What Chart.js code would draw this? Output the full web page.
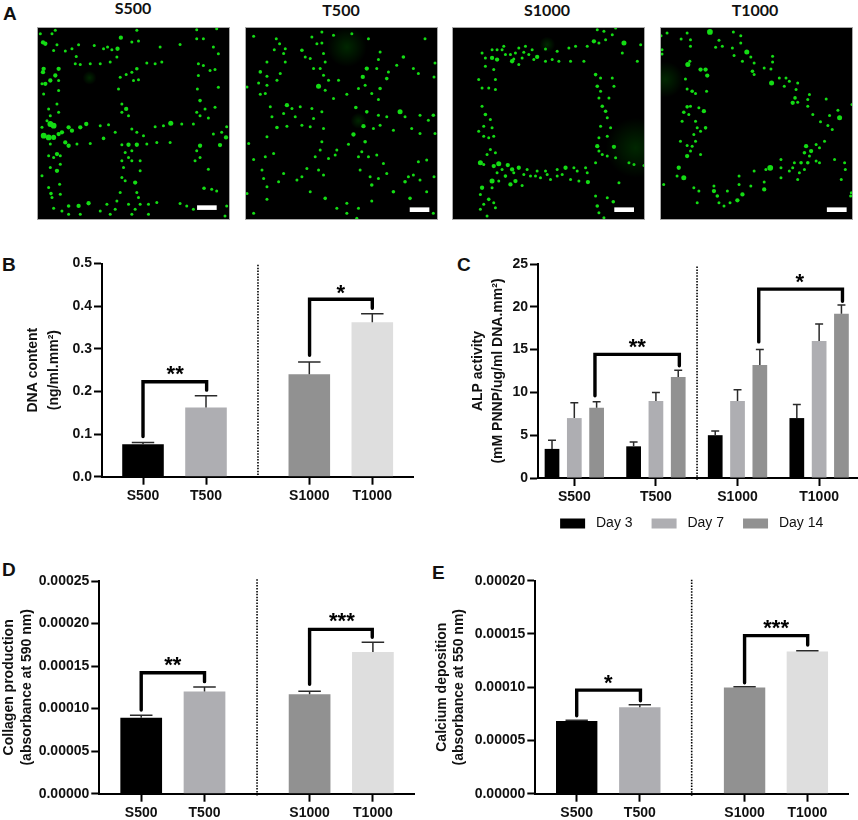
<!DOCTYPE html>
<html lang="en">
<head>
<meta charset="utf-8">
<title>Scaffold cell response</title>
<script src="https://cdn.jsdelivr.net/npm/chart.js@4.4.1/dist/chart.umd.js"></script>
<style>
html, body { margin: 0; padding: 0; background: #fff; overflow: hidden; }
#page { position: relative; width: 858px; height: 820px; overflow: hidden; font-family: "Liberation Sans", Arial, sans-serif; }
#page canvas { position: absolute; }
.letter { position: absolute; font-size: 19px; font-weight: bold; line-height: 19px; color: #111; }
.imgTitle { position: absolute; width: 100px; text-align: center; font: bold 16px/16px Lato, sans-serif; color: #111; }
canvas.micro { filter: blur(0.35px); }
</style>
</head>
<body>
<div id="page">
  <div class="letter" style="left:3px;top:4px">A</div>
  <div class="letter" style="left:2px;top:255px">B</div>
  <div class="letter" style="left:457px;top:255px">C</div>
  <div class="letter" style="left:2px;top:560px">D</div>
  <div class="letter" style="left:432px;top:563px">E</div>
  <div class="imgTitle" style="left:83px;top:0px">S500</div>
  <div class="imgTitle" style="left:291px;top:2px">T500</div>
  <div class="imgTitle" style="left:497px;top:2px">S1000</div>
  <div class="imgTitle" style="left:705px;top:2px">T1000</div>

  <canvas id="imgS500" class="micro" style="left:37px;top:27px"></canvas>
  <canvas id="imgT500" class="micro" style="left:245px;top:27px"></canvas>
  <canvas id="imgS1000" class="micro" style="left:452px;top:27px"></canvas>
  <canvas id="imgT1000" class="micro" style="left:660px;top:27px"></canvas>
  <canvas id="chartB" style="left:0;top:240px"></canvas>
  <canvas id="chartC" style="left:430px;top:240px"></canvas>
  <canvas id="chartD" style="left:0;top:550px"></canvas>
  <canvas id="chartE" style="left:430px;top:550px"></canvas>
</div>

<script>
"use strict";

var categories = ["S500", "T500", "S1000", "T1000"];
var dayLabels = ["Day 3", "Day 7", "Day 14"];

// B - DNA content
var dnaValues = [0.076, 0.162, 0.240, 0.3625];
var dnaTops = [0.080, 0.190, 0.269, 0.382];
// C - ALP activity, one list per day
var alpDay3 = [3.4, 3.7, 5.0, 7.0];
var alpDay7 = [7.0, 9.0, 9.0, 16.0];
var alpDay14 = [8.2, 11.8, 13.2, 19.2];
var alpDay3Tops = [4.4, 4.2, 5.5, 8.6];
var alpDay7Tops = [8.8, 10.0, 10.3, 18.0];
var alpDay14Tops = [8.9, 12.6, 15.0, 20.2];
// D - collagen
var collagenValues = [0.0000893, 0.000120, 0.0001168, 0.0001665];
var collagenTops = [0.0000921, 0.0001254, 0.0001203, 0.0001779];
// E - calcium
var calciumValues = [0.0000682, 0.0000811, 0.0000998, 0.0001336];
var calciumTops = [0.0000689, 0.0000836, 0.0001005, 0.0001343];

// x places of the four groups on each linear x axis (the gap in the middle is wider)
var spacedPos = [0, 1, 2.64, 3.64];
var evenPos = [0, 1, 2, 3];

// significance brackets: [x left, x right, y left end, y right end, y top, stars, x stars, y stars]
var dnaBrackets = [
  [0, 1.01, 0.094, 0.203, 0.2228, "**", 0.51, 0.248],
  [2.644, 3.64, 0.285, 0.395, 0.416, "*", 3.14, 0.439]
];
var alpBrackets = [
  [0.253, 1.287, 9.6, 13.1, 14.44, "**", 0.772, 15.7],
  [2.26, 3.286, 15.9, 20.65, 22.07, "*", 2.763, 23.3]
];
var collagenBrackets = [
  [0, 1.0, 0.0000984, 0.0001317, 0.0001422, "**", 0.5, 0.000155],
  [2.66, 3.65, 0.0001285, 0.0001838, 0.0001932, "***", 3.17, 0.000206]
];
var calciumBrackets = [
  [0, 1.01, 0.0000732, 0.0000873, 0.0000973, "*", 0.5, 0.0001067],
  [2.66, 3.66, 0.0001042, 0.0001396, 0.0001484, "***", 3.16, 0.0001584]
];

// A - green cells: [x, y] or [x, y, size], in crop pixels
var cellsS500 = [
  [120,100],[128,126,3],[135,130,3],[165,90],[155,100],[170,133],[160,150],[235,133],[282,135],[322,140],[352,145,3],[362,112,3],[395,125],[415,122],[410,90],
  [195,152],[228,168],[215,145],[310,145],[335,148],[225,190],[240,192],[270,190],[300,190],[330,185],[350,170],[410,205,2.5],[395,215],[440,188],[465,190],[485,185],
  [480,140],[540,132],[590,88],[650,85],[610,115],[590,115],[640,140],[655,160],[595,190],[610,195],[630,210],[645,207],
  [130,205,3],[128,215,3],[175,205,3],[165,225,3],[150,240,3],[135,250,3],[175,240],[125,250],[130,280],[175,270],[170,310],[145,325],[175,335],[150,345],
  [360,230],[378,222],[400,240],[415,238],[355,265],[365,310],[378,325,3],[385,345],[365,335],[595,225],[592,265],[600,300,2.5],[655,260],[615,325],[645,320],[590,335],
  [150,370,4],[160,375,4],[125,380],[140,360],[130,405,4],[145,410,4],[160,410,3.5],[175,400,3],[185,395,3],[205,380,3],[215,390,3],[240,380,3],[258,370,3],[195,425,3],[205,435,3],
  [230,430],[270,428],[310,413,2.5],[300,375],[325,372],[345,395],[395,385],[410,395],[430,405],[465,378],[490,375],[512,368,3.5],[545,370],[580,370],[680,378],[678,410,3],[665,395],
  [625,352],[600,345],[440,430],[470,425],[510,425],[385,432,3],[410,432,3],[365,432],[600,435,3],[660,433,3],[640,400],
  [150,430],[145,465],[170,460,3],[180,465],[160,470],[180,490],[170,510,3],[150,500],[125,525],[178,550],[180,580],[145,560],[152,578,2.5],[155,590],
  [365,480],[370,500],[375,455],[395,450],[420,480],[395,480],[420,510],[365,530],[375,540],[405,545,3],[410,575],[415,590],[360,575],[385,470],[600,470],[590,450],[625,505],[612,562,2.5],[650,570],[635,565],[585,480],
  [160,622],[185,630],[205,615,2.5],[235,615,3],[265,607,3],[300,630],[320,610],[345,625],[350,600],[385,610],[405,625],[420,610],[445,610],[470,605],[540,608],[560,615],[580,625],[680,615],[675,645],[240,640],[330,640],[395,640],[445,640],[205,640]
];
var cellsT500 = [
  [760,108],[828,115],[838,130],[822,148],[855,145],[850,160],[800,185],[855,185],[905,150,2.5],[915,170],[930,175],[780,215,2.5],[800,228],[840,220],[830,240],[775,248],[740,260],[800,255],[795,280],[780,282],
  [935,110],[965,95],[965,128],[1000,105],[1055,100],[1105,115],[950,130],[970,160],[975,185],[940,205],[960,205],[970,225],[955,258,3.5],[985,240],[1015,240],[975,270],[1000,295],[1040,282],
  [1140,155],[1135,178],[1130,205],[1100,205,3],[1088,230,3],[1095,255],[1075,265],[1165,215],[1160,235,2.5],[1190,195],[1210,170,2.5],[1240,205],[1255,220],[1140,265,2.5],[1115,280],[1135,298],[1275,115],[1305,188],[1302,230],
  [810,320],[860,315,3],[875,325],[900,320],[935,325],[815,350],[850,340],[885,350],[940,355],[965,335],[1067,322,2.5],[1100,335,2.5],[1135,345],[1200,335,3.5],[1160,350],[1215,350],[1260,345],[1285,360],[1300,345,2.5],
  [830,382,2.5],[860,378],[905,375],[930,380],[970,385],[1090,378,3],[1060,403,3],[1120,385],[1140,375],[1180,390],[1235,385],[1260,400],[1305,400],
  [800,410],[965,425],[960,450],[945,470],[1010,450],[985,475],[1005,465],[1045,432],[1095,425,2.5],[1085,455],[1075,470],[1105,470],[1130,465],[1150,490],[745,430],[760,478],[795,470],[820,460],
  [785,510],[790,535],[800,560],[835,545],[850,520],[905,530],[920,505],[955,510],[970,525],[890,540],[1080,510],[1115,555,2.5],[1110,530],[1160,520],[1135,535],[1215,545,2.5],[1225,530],[1240,525],[1255,485],[1280,480],[1260,540],[1280,575],[1302,530],
  [1180,575,2.5],[1230,595,2.5],[740,580],[800,598],[930,575],[975,595,2.5],[1040,610],[1075,625],[1115,603],[1040,640],[1070,655],[760,640],[1010,625],[1300,640]
];
var cellsS1000 = [
  [155,160],[185,150],[165,175],[185,175,3],[200,180,3],[215,150],[225,165],[245,185,3],[240,165],[265,145],[275,175],[295,165],[320,172,3],[345,148],[285,140],[305,150],[380,155],[345,185],[385,185],[415,145],[435,140],[420,185],[460,185],[470,140],
  [490,125,3],[505,130],[525,120],[500,90],[520,95],[555,85],[545,105],[580,130,3.5],[630,135],[575,160],[620,185],[165,200],[190,210],[265,195],[220,140],[255,160],[200,150],[250,178],[280,158],[310,180],[365,180],
  [145,240],[155,265],[175,265],[195,240],[195,270],[155,320],[165,345,2.5],[180,360],[160,380],[145,395],[185,385],[160,410],[175,415],[190,410],[180,450],[170,465],[195,460],
  [495,225,2.5],[510,235],[545,235],[500,260,2.5],[510,275],[550,260],[505,295],[535,295],[515,320,2.5],[525,335,2.5],[530,355],[510,380],[540,385],[505,415],[530,410],[500,440,3],[505,455],[550,442,3],[515,465],[530,470],[555,475],
  [150,490,3.5],[160,495],[190,500,3],[205,493,3.5],[232,497,3],[245,510,3],[265,505,3],[290,510],[320,515],[345,515],[380,510],[405,505,3],[430,505],[465,505],[200,520],[225,530,2.5],[250,520],[185,545,3.5],[205,545],[240,555,3],[255,545,3],[275,558],[300,530],[330,535],[360,540],[395,525],[420,540],[445,545],[472,548,3],[470,520],[495,490],[215,510],[280,525],[315,530],[350,525],[380,530],[440,515],
  [155,565,3],[150,585],[185,565],[175,600,2.5],[190,610],[160,615],[150,630],[170,650],[195,625],
  [495,590],[500,620,2.5],[505,640],[548,607,2.5],[530,595],[520,655],[595,490],[640,498],[565,550],[610,495]
];
var cellsT1000 = [
  [692,108],[710,100],[770,100],[838,97,4],[908,97],[930,108],[752,118],[780,120],[780,140],[865,122],[855,143],[875,140],[930,130],[905,145],[948,157,3.5],[910,168],[960,172],[695,150],[695,163],[935,185],[1025,170],[1025,187],[970,190],
  [772,195,3.5],[778,185],[810,210,3],[825,210,3],[830,228,3],[765,238],[828,275],[770,268],[785,275,2.5],[795,282],[780,320],[770,322,2.5],[760,338,2.5],[805,325],[820,335,3],[775,345],[755,365],[795,365],[800,385],[825,385,2.5],[810,395],[790,405],[750,425],[770,438],[795,425],[785,440],[810,465],[770,470,3],[780,455],[745,505,3],[760,535,3.5],[740,530],[700,555],
  [965,215,2.5],[970,225],[1000,205],[1020,208],[1022,250,3.5],[1045,235],[1065,235],[1075,245],[1100,250],[1060,260],[1095,270],[1092,295,2.5],[1100,308],[1085,310,3],[1130,300],[1135,285],[1130,320],[1185,298],[1220,332],[1225,355,3.5],[1195,348],[1168,367],[1203,390],[1145,345],[1190,378],
  [1180,425],[1155,435],[1125,440,3],[1140,455,3],[1120,460,2.5],[1165,445],[1135,470],[1110,490,2.5],[1130,490,2.5],[1155,485],[1090,490],[1085,505],[1105,520],[1120,510],[1075,515],[1100,540],[1050,480],[1050,505],[1165,490],[1210,480],[1240,490],[1242,510],[1230,540],[1260,580],[1258,590],[1262,315],
  [1018,505,4],[1005,510],[970,515],[925,530],[1000,548],[1000,570,3],[960,560],[925,555],[935,585,3],[920,603,3],[898,610],[880,620],[850,575,3],[860,590,2.5],[865,610],[850,560],[790,565],[805,575],[890,575],[1050,535],[800,610]
];
// out of focus glow: [x, y, size]
var hazeS500 = [[268,232,7]];
var hazeT500 = [[1040,140,20],[1075,362,8]];
var hazeS1000 = [[615,445,30],[350,135,8]];
var hazeT1000 = [[705,240,18]];
// white scale bars: [x from, x to, y]
var barS500 = [591, 650, 620];
var barT500 = [1229, 1288, 629];
var barS1000 = [551, 610, 631];
var barT1000 = [1187, 1246, 631];

var FONT = "'Liberation Sans', Arial, sans-serif";
var barColors = ["#000000", "#aeaeb2", "#919191", "#dedede"];

function drawMarks(chart, tops, brackets, dividerX, dividerTop) {
	var c = chart.ctx, xs = chart.scales.x, ys = chart.scales.y;
	c.save();
	// error bars, upper side only
	c.strokeStyle = "#2a2a2a";
	c.lineWidth = 1.5;
	tops.forEach(function(list, d) {
		var meta = chart.getDatasetMeta(d);
		var cap = meta.data[0].width * 0.27;
		list.forEach(function(top, i) {
			var el = meta.data[i], y = ys.getPixelForValue(top);
			c.beginPath();
			c.moveTo(el.x, el.y);
			c.lineTo(el.x, y);
			c.moveTo(el.x - cap, y);
			c.lineTo(el.x + cap, y);
			c.stroke();
		});
	});
	// dotted divider
	c.strokeStyle = "#000";
	c.lineWidth = 1.6;
	c.setLineDash([1.5, 1.4]);
	c.beginPath();
	c.moveTo(xs.getPixelForValue(dividerX), ys.getPixelForValue(dividerTop));
	c.lineTo(xs.getPixelForValue(dividerX), ys.getPixelForValue(0) + 2);
	c.stroke();
	c.setLineDash([]);
	// brackets with stars
	brackets.forEach(function(b) {
		c.lineWidth = 3.4;
		c.lineCap = "round";
		c.lineJoin = "miter";
		c.beginPath();
		c.moveTo(xs.getPixelForValue(b[0]), ys.getPixelForValue(b[2]));
		c.lineTo(xs.getPixelForValue(b[0]), ys.getPixelForValue(b[4]));
		c.lineTo(xs.getPixelForValue(b[1]), ys.getPixelForValue(b[4]));
		c.lineTo(xs.getPixelForValue(b[1]), ys.getPixelForValue(b[3]));
		c.stroke();
		c.fillStyle = "#000";
		c.font = "bold 22px " + FONT;
		c.textAlign = "center";
		c.textBaseline = "alphabetic";
		c.fillText(b[5], xs.getPixelForValue(b[6]), ys.getPixelForValue(b[7]) + 10);
	});
	c.restore();
}

function makeBarChart(id, o) {
	var canvas = document.getElementById(id);
	canvas.width = o.width;
	canvas.height = o.height;
	canvas.style.width = o.width + "px";
	canvas.style.height = o.height + "px";
	var plugins = [{
		id: "marks",
		afterDatasetsDraw: function(chart) {
			drawMarks(chart, o.tops, o.brackets, o.dividerX, o.dividerTop);
		}
	}];
	if (o.legendShift) {
		plugins.push({
			id: "moveLegend",
			beforeDraw: function(chart) {
				chart.legend.left = o.legendShift;
				chart.legend.right = o.width + o.legendShift;
				chart.legend.top = o.legendTop;
			}
		});
	}
	return new Chart(canvas, {
		type: "bar",
		data: {
			datasets: o.series.map(function(s) {
				return {
					label: s.label,
					data: s.values.map(function(v, i) { return {x: o.positions[i], y: v}; }),
					backgroundColor: s.color,
					categoryPercentage: o.catPct,
					barPercentage: o.barPct
				};
			})
		},
		options: {
			responsive: false,
			animation: false,
			devicePixelRatio: 1,
			layout: {padding: {top: o.padTop, right: o.padRight, left: 0, bottom: 0}},
			plugins: {
				tooltip: {enabled: false},
				legend: o.legend || {display: false}
			},
			scales: {
				x: {
					type: "linear",
					offset: false,
					min: o.xMin,
					max: o.xMax,
					afterBuildTicks: function(axis) {
						axis.ticks = o.positions.map(function(v) { return {value: v}; });
					},
					afterFit: function(s) { s.height = o.xHeight; },
					grid: {offset: false, drawOnChartArea: false, tickLength: 8, tickWidth: 2, tickColor: "#000"},
					border: {width: 2, color: "#000"},
					ticks: {
						autoSkip: false,
						maxRotation: 0,
						padding: 3,
						color: "#111",
						font: {family: FONT, size: 14, weight: "bold"},
						callback: function(v) { return categories[o.positions.indexOf(v)]; }
					}
				},
				y: {
					min: 0,
					max: o.yMax,
					afterFit: function(s) { s.width = o.yWidth; },
					grid: {drawOnChartArea: false, tickLength: 8, tickWidth: 2, tickColor: "#000"},
					border: {width: 2, color: "#000"},
					ticks: {
						stepSize: o.yStep,
						padding: 2,
						color: "#111",
						font: {family: FONT, size: 14, weight: "bold"},
						callback: function(v) { return o.decimals ? v.toFixed(o.decimals) : String(v); }
					},
					title: {
						display: true,
						text: o.title,
						color: "#111",
						padding: {top: o.titlePad, bottom: 0},
						font: {family: FONT, size: 14, weight: "bold", lineHeight: o.titleLine}
					}
				}
			}
		},
		plugins: plugins
	});
}

makeBarChart("chartB", {
	width: 430, height: 290, padTop: 23.5, padRight: 16.5, xHeight: 53.3, yWidth: 102,
	positions: spacedPos, xMin: -0.651, xMax: 4.294, yMax: 0.5, yStep: 0.1, decimals: 1,
	catPct: 1, barPct: 0.66,
	title: ["DNA content", "(ng/ml.mm\u00b2)"], titlePad: 22.5, titleLine: 1.5,
	series: [{label: "DNA content", values: dnaValues, color: barColors}],
	tops: [dnaTops], brackets: dnaBrackets, dividerX: 1.825, dividerTop: 0.497
});

makeBarChart("chartC", {
	width: 428, height: 321, padTop: 24, padRight: 1, xHeight: 40, yWidth: 108,
	positions: evenPos, xMin: -0.445, xMax: 3.464, yMax: 25, yStep: 5, decimals: 0,
	catPct: 0.82, barPct: 0.66,
	title: ["ALP activity", "(mM PNNP/ug/ml DNA.mm\u00b2)"], titlePad: 38, titleLine: 1.43,
	series: [
		{label: dayLabels[0], values: alpDay3, color: "#000000"},
		{label: dayLabels[1], values: alpDay7, color: "#aeaeb2"},
		{label: dayLabels[2], values: alpDay14, color: "#919191"}
	],
	tops: [alpDay3Tops, alpDay7Tops, alpDay14Tops], brackets: alpBrackets, dividerX: 1.504, dividerTop: 24.7,
	legendShift: 47.7,
	legendTop: 257.5,
	legend: {
		position: "bottom",
		labels: {
			boxWidth: 25,
			boxHeight: 10,
			padding: 19,
			color: "#111",
			font: {family: FONT, size: 14},
			generateLabels: function(chart) {
				return Chart.defaults.plugins.legend.labels.generateLabels(chart).map(function(l) {
					l.text = " " + l.text;
					l.lineWidth = 0;
					return l;
				});
			}
		}
	}
});

makeBarChart("chartD", {
	width: 430, height: 270, padTop: 31, padRight: 15.7, xHeight: 26.3, yWidth: 99.3,
	positions: [0, 1, 2.66, 3.66], xMin: -0.662, xMax: 4.314, yMax: 0.00025, yStep: 0.00005, decimals: 5,
	catPct: 1, barPct: 0.659,
	title: ["Collagen production", "(absorbance at 590 nm)"], titlePad: 0.5, titleLine: 1.25,
	series: [{label: "Collagen production", values: collagenValues, color: barColors}],
	tops: [collagenTops], brackets: collagenBrackets, dividerX: 1.83, dividerTop: 0.000252
});

makeBarChart("chartE", {
	width: 428, height: 270, padTop: 30.7, padRight: 9.3, xHeight: 26.3, yWidth: 105.3,
	positions: [0, 1, 2.66, 3.655], xMin: -0.656, xMax: 4.31, yMax: 0.0002, yStep: 0.00005, decimals: 5,
	catPct: 1, barPct: 0.659,
	title: ["Calcium deposition", "(absorbance at 550 nm)"], titlePad: 3, titleLine: 1.25,
	series: [{label: "Calcium deposition", values: calciumValues, color: barColors}],
	tops: [calciumTops], brackets: calciumBrackets, dividerX: 1.822, dividerTop: 0.000201
});

// micrographs as black scatter plots
function toPoints(list) {
	return list.map(function(p) { return {x: p[0], y: p[1], r: p[2]}; });
}

function hazeFill(c) {
	var fallback = "rgba(0,120,0,0.1)";
	if (!c.raw) return fallback;
	var px = c.chart.scales.x.getPixelForValue(c.raw.x), py = c.chart.scales.y.getPixelForValue(c.raw.y);
	if (!isFinite(px) || !isFinite(py)) return fallback;
	var g = c.chart.ctx.createRadialGradient(px, py, 0, px, py, c.raw.r);
	g.addColorStop(0, "rgba(0,120,0,0.32)");
	g.addColorStop(1, "rgba(0,120,0,0)");
	return g;
}

function makeMicrograph(id, cells, haze, bar, box) {
	var canvas = document.getElementById(id);
	canvas.width = 193;
	canvas.height = 193;
	canvas.style.width = "193px";
	canvas.style.height = "193px";
	return new Chart(canvas, {
		type: "scatter",
		data: {
			datasets: [
				{
					data: toPoints(haze),
					pointBorderWidth: 0,
					pointRadius: function(c) { return c.raw ? c.raw.r : 3; },
					pointBackgroundColor: hazeFill
				},
				{
					data: toPoints(cells),
					pointBorderWidth: 0,
					pointRadius: function(c) { return c.raw && c.raw.r ? c.raw.r * 0.72 : 1.5; },
					pointBackgroundColor: "#14dc14"
				},
				{
					type: "line",
					data: [{x: bar[0], y: bar[2]}, {x: bar[1], y: bar[2]}],
					borderColor: "#fff",
					borderWidth: 4.6,
					pointRadius: 0
				}
			]
		},
		options: {
			responsive: false,
			animation: false,
			devicePixelRatio: 1,
			layout: {autoPadding: false, padding: 0},
			plugins: {legend: {display: false}, tooltip: {enabled: false}},
			scales: {
				x: {display: false, min: box[0], max: box[1]},
				y: {display: false, min: box[2], max: box[3], reverse: true}
			}
		},
		plugins: [{
			id: "frame",
			beforeDraw: function(chart) {
				chart.ctx.fillStyle = "#000";
				chart.ctx.fillRect(0, 0, chart.width, chart.height);
			},
			afterDraw: function(chart) {
				chart.ctx.strokeStyle = "#a8a8a8";
				chart.ctx.lineWidth = 1;
				chart.ctx.strokeRect(0.5, 0.5, chart.width - 1, chart.height - 1);
			}
		}]
	});
}

makeMicrograph("imgS500", cellsS500, hazeS500, barS500, [110, 690, 80, 657]);
makeMicrograph("imgT500", cellsT500, hazeT500, barT500, [734, 1314, 80, 660]);
makeMicrograph("imgS1000", cellsS1000, hazeS1000, barS1000, [65, 643, 82, 662]);
makeMicrograph("imgT1000", cellsT1000, hazeT1000, barT1000, [689, 1265, 82, 662]);
</script>
</body>
</html>
